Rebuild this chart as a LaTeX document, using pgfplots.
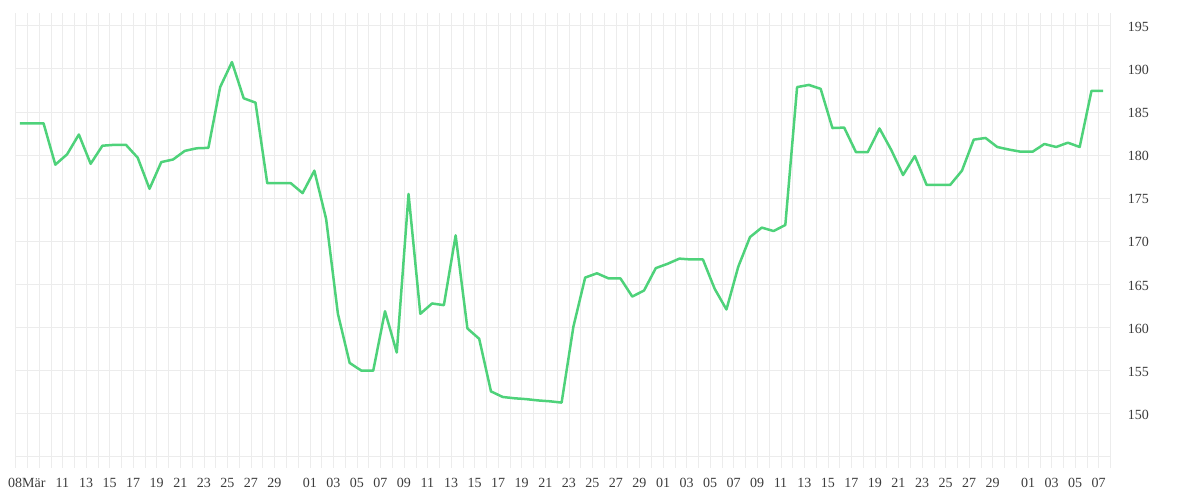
\documentclass[border=0pt]{standalone}
\usepackage{fontspec}
\setmainfont{Liberation Serif}
\usepackage{pgfplots}
\pgfplotsset{compat=1.18}
\usepackage{pgfplotstable}
\usetikzlibrary{calc}
\definecolor{linegreen}{RGB}{78,210,122}
\definecolor{gridgray}{RGB}{236,236,236}
\definecolor{labelgray}{RGB}{60,60,60}
\pgfplotstableread{
k v
0 183.7
1 183.7
2 183.7
3 178.9
4 180.1
5 182.4
6 179.0
7 181.1
8 181.2
9 181.2
10 179.7
11 176.1
12 179.2
13 179.5
14 180.5
15 180.8
16 180.85
17 187.9
18 190.8
19 186.6
20 186.1
21 176.75
22 176.75
23 176.75
24 175.6
25 178.2
26 172.6
27 161.6
28 155.9
29 155.0
30 155.0
31 161.9
32 157.1
33 175.5
34 161.6
35 162.8
36 162.6
37 170.7
38 159.9
39 158.7
40 152.6
41 151.95
42 151.8
43 151.7
44 151.55
45 151.45
46 151.3
47 160.1
48 165.8
49 166.3
50 165.7
51 165.7
52 163.6
53 164.3
54 166.9
55 167.4
56 168.0
57 167.9
58 167.9
59 164.5
60 162.1
61 167.05
62 170.5
63 171.6
64 171.2
65 171.9
66 187.9
67 188.15
68 187.7
69 183.15
70 183.2
71 180.35
72 180.35
73 183.1
74 180.6
75 177.7
76 179.9
77 176.55
78 176.55
79 176.55
80 178.2
81 181.8
82 182.0
83 180.95
84 180.65
85 180.4
86 180.4
87 181.3
88 180.95
89 181.45
90 180.95
91 187.45
92 187.45
}\datatable
\begin{document}
\begin{tikzpicture}
\begin{axis}[
  scale only axis,
  width=1095pt, height=455.3pt,
  xmin=0, xmax=93, ymin=143.71, ymax=196.53,
  axis line style={draw=none},
  major tick length=0pt, minor tick length=0pt,
  xtick={3,5,7,9,11,13,15,17,19,21,24,26,28,30,32,34,36,38,40,42,44,46,48,50,52,54,56,58,60,62,64,66,68,70,72,74,76,78,80,82,85,87,89,91},
  xticklabels={11,13,15,17,19,21,23,25,27,29,01,03,05,07,09,11,13,15,17,19,21,23,25,27,29,01,03,05,07,09,11,13,15,17,19,21,23,25,27,29,01,03,05,07},
  extra x ticks={0},
  extra x tick labels={08Mär},
  extra x tick style={grid=none, xticklabel style={xshift=-12pt}},
  minor xtick={0,...,93},
  xmajorgrids=false, xminorgrids=true,
  ytick={145,150,...,195},
  yticklabels={,150,155,160,165,170,175,180,185,190,195},
  ymajorgrids=true,
  yticklabel pos=right,
  major grid style={gridgray, line width=1pt},
  minor grid style={gridgray, line width=1pt},
  tick label style={font=\fontsize{14}{16}\selectfont, text=labelgray},
  x tick label style={anchor=north west, inner sep=0pt, xshift=4.3pt, yshift=-10pt},
  y tick label style={anchor=west, inner sep=0pt, xshift=17pt, yshift=-1pt},
]
\addplot[linegreen, line width=2.5pt, line join=round, mark=none]
  table[x expr=\thisrow{k}+0.365, y=v]{\datatable};
\end{axis}
\pgfresetboundingbox
\path[use as bounding box] ($(current axis.south west)+(-15.7pt,-32pt)$) rectangle ($(current axis.north east)+(89.3pt,12.7pt)$);
\end{tikzpicture}
\end{document}
